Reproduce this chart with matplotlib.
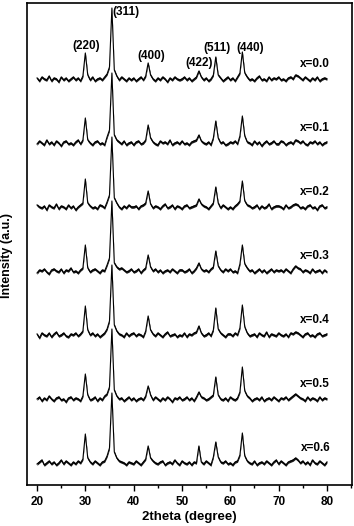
import matplotlib
matplotlib.use('Agg')
import matplotlib.pyplot as plt
from matplotlib.ticker import MultipleLocator
import numpy as np

# 2theta sampling (degrees), 0.5 deg step from 20 to 80
two_theta = np.arange(20.0, 80.01, 0.5)

samples = ['x=0.0', 'x=0.1', 'x=0.2', 'x=0.3', 'x=0.4', 'x=0.5', 'x=0.6']

# intensities (a.u., relative to each trace's baseline)
i_00 = [1, -2, 2, 0, -1, 3, -2, 1, 0, -3, 2, -1, 1, -2, 0, 2, -1, 1, -2, 3,
        26, 4, -1, 2, -2, 0, 1, -1, 2, 5, 12, 71, 9, 3, -1, 2, 0, -2, 1, -1,
        1, -2, 0, 2, -1, 3, 16, 4, 0, -2, 1, -1, 2, 0, -3, 1, -1, 2, 0, -1,
        0, 2, -1, 1, -2, 0, 2, 8, 2, -1, 1, -2, 0, 4, 22, 4, 1, -2, 0, 2,
        -1, 1, -2, 2, 6, 27, 6, 2, -1, 0, -2, 1, 3, -1, 0, -2, 2, -1, 1, 0,
        2, -1, 0, -2, 1, 2, 0, 4, 3, 1, -1, 2, 0, -2, 1, -1, 2, -2, 0, 1,
        0]
i_01 = [-1, 2, 0, -2, 3, -1, 1, -2, 2, 0, -3, 1, 2, -1, 0, -2, 1, 3, -1, 3,
        25, 3, 0, -2, 1, 2, -1, 0, -2, 6, 13, 70, 8, 3, 1, -1, 2, -2, 0, 1,
        -2, 1, 2, -1, 0, 3, 18, 5, 1, -1, -2, 2, 0, 1, -1, 3, -2, 0, 1, -1,
        2, -1, 0, -2, 1, 2, 3, 8, 2, 0, -1, 1, -2, 5, 22, 5, 0, 1, -2, -1,
        1, 0, 2, -1, 7, 27, 7, 1, 0, -2, 2, -1, 1, -3, 0, 2, -1, 0, 2, -1,
        -1, 2, 1, -2, 0, 1, -1, 3, 2, 0, 2, -1, -2, 1, 0, 2, -1, 1, -2, 0,
        1]
i_02 = [2, 0, -1, 1, -3, 2, 0, -1, 3, -2, 1, 0, -2, 2, -1, 1, -3, 0, 2, 4,
        28, 4, 1, -1, 0, -2, 2, 1, -1, 5, 12, 70, 9, 4, 0, -2, 1, -1, 2, 0,
        0, 1, -2, 1, 2, 4, 16, 3, -1, 1, 0, -2, 1, 3, -1, 0, 2, -2, 1, 0,
        -2, 1, 2, -1, 0, 1, 2, 8, 3, 1, 0, -2, 1, 4, 20, 4, -1, 2, 0, -2,
        0, -2, 1, 3, 6, 26, 6, 2, 1, -1, 0, 2, -2, 1, -1, 0, 3, -2, 0, 1,
        1, 0, -2, 2, -1, 0, 2, 3, 2, -1, 0, -2, 1, 2, -1, 0, -3, 1, 2, -1,
        0]
i_03 = [-2, 1, 0, 2, -1, -3, 1, 2, 0, -1, 2, -2, 1, 0, 3, -1, 0, -2, 1, 3,
        26, 3, -1, 1, 2, 0, -2, 1, 0, 6, 13, 70, 8, 4, 2, 3, 1, -1, 0, 2,
        -1, 0, 2, -2, 1, 3, 16, 4, 0, 2, -1, 1, -2, 0, 1, -1, 2, 0, -2, 1,
        1, -1, 0, 2, -2, 0, 3, 8, 2, 0, 1, -1, 2, 4, 20, 5, 1, -1, 2, 0,
        2, -1, 0, -2, 7, 26, 7, 3, 0, 1, -2, 0, 2, -1, 1, -2, 0, 2, -1, 1,
        0, 1, -1, 2, 0, -2, 2, 5, 3, 2, -1, 1, 0, -2, 2, -1, 0, 1, -2, 1,
        -1]
i_04 = [1, -3, 2, 0, -1, 2, -2, 1, 3, -1, 0, 2, -1, -2, 1, 0, 2, -1, 1, 4,
        29, 5, 0, 2, -1, 1, -2, 0, 2, 6, 14, 70, 10, 4, 1, 0, -2, 2, -1, 1,
        2, -1, 1, 0, -2, 4, 19, 5, 1, -1, 2, 0, -2, 1, 3, -1, 0, 1, -2, 0,
        -1, 2, -2, 1, 0, 2, 3, 9, 2, -1, 0, 2, -1, 5, 27, 6, 2, 0, -2, 1,
        1, -1, 2, 0, 7, 30, 8, 2, -1, 0, 1, -2, 2, 0, -1, 3, -2, 1, 0, -1,
        2, 0, -1, 1, -2, 2, 1, 3, 2, 0, -2, 1, 2, -1, 0, -2, 1, 2, -1, 0,
        1]
i_05 = [0, 2, -2, 1, -1, 3, 0, -2, 1, 2, -1, 0, -3, 1, 2, -1, 1, 0, -2, 3,
        25, 4, -1, 0, 2, -2, 1, -1, 3, 5, 12, 70, 9, 3, 0, 1, -2, 0, 2, -1,
        1, -2, 0, 1, -1, 3, 13, 4, -1, 2, 0, -2, 1, -1, 2, 0, -3, 1, 0, 2,
        -1, 0, 2, -1, 1, -2, 2, 7, 2, 1, -1, 0, 2, 4, 22, 4, 0, -1, 1, -2,
        2, 0, -1, 1, 7, 32, 8, 3, 1, -2, 0, 1, -1, 2, -2, 0, 1, -1, 2, 0,
        -2, 1, 0, 2, -1, 1, 3, 5, 3, 1, 0, -2, 2, -1, 1, 0, -2, 2, -1, 1,
        0]
i_06 = [-1, 1, 3, -2, 0, 2, -1, 1, -2, 0, 3, -1, 2, 0, -2, 1, -1, 2, 0, 4,
        29, 5, 1, -1, 2, 0, -2, 1, 2, 7, 15, 70, 11, 5, 2, 1, 0, -2, 1, 0,
        -1, 2, 0, -2, 1, 4, 17, 5, 2, 0, -1, 1, 2, -2, 0, 1, -1, 3, 0, -2,
        2, 0, -1, 1, -2, 1, 0, 17, 1, -1, 2, 0, -2, 6, 21, 6, 1, 0, 2, -1,
        0, -2, 1, 2, 8, 30, 7, 2, 0, -1, 2, -2, 0, 1, -1, 2, 0, -2, 1, 3,
        -1, 2, 0, -2, 1, 2, 3, 5, 3, 0, 2, -1, 1, -2, 3, 0, -1, 2, 0, -2,
        1]
intensities = [i_00, i_01, i_02, i_03, i_04, i_05, i_06]

# reflections marked on the top pattern
hkl = ['(220)', '(311)', '(400)', '(422)', '(511)', '(440)']
hkl_pos = [30.0, 35.5, 43.0, 53.5, 57.0, 62.5]

plt.rcParams['font.family'] = ['Liberation Sans', 'DejaVu Sans']
plt.rcParams['font.weight'] = 'bold'

fig = plt.figure(figsize=(3.54, 5.26), dpi=100)
ax = fig.add_axes([27 / 354, 1 - 485 / 526, 325 / 354, 482 / 526])

spacing = 64
base = 22
n = len(samples)
for i, (name, y) in enumerate(zip(samples, intensities)):
    off = base + spacing * (n - 1 - i)
    yy = np.array(y) + off
    # noisy counting band around the trace
    ax.fill_between(two_theta, yy - 1.3, yy + 1.3, color='#1a1a1a', lw=0)
    ax.plot(two_theta, yy, color='black', lw=0.8)
    ax.text(77.6, off + 15, name, ha='center', va='center',
            fontsize=8.5, fontweight='bold')

# peak labels on the x=0.0 pattern
top = base + spacing * (n - 1)
y0 = np.array(i_00)
nudges = [(0.2, 7), (0.2, -4), (0.6, 7), (0.0, 8), (0.3, 9), (1.7, 4)]
for lab, pos, (dx, dy) in zip(hkl, hkl_pos, nudges):
    k = int(round((pos - 20) / 0.5))
    ha = 'left' if lab == '(311)' else 'center'
    ax.text(pos + dx, top + y0[k] + dy, lab, ha=ha, va='center',
            fontsize=8.5, fontweight='bold')

ax.set_xlim(17.93, 85.2)
ax.set_ylim(0, 482)
ax.set_yticks([])
ax.xaxis.set_major_locator(MultipleLocator(10))
ax.xaxis.set_minor_locator(MultipleLocator(5))
ax.tick_params(axis='x', which='major', direction='out', length=4, width=1,
               labelsize=8.5, pad=4)
ax.tick_params(axis='x', which='minor', direction='out', length=2.5, width=1)
for s in ax.spines.values():
    s.set_linewidth(1.2)
ax.set_xticks(np.arange(20, 81, 10))
ax.set_xticklabels([str(v) for v in range(20, 81, 10)], fontweight='bold')
ax.set_xlim(17.93, 85.2)
ax.set_xlabel('2theta (degree)', fontsize=9.5, fontweight='bold', labelpad=2)
ax.set_ylabel('Intensity (a.u.)', fontsize=9, fontweight='bold')
ax.yaxis.set_label_coords(-0.043, 0.477)

fig.savefig('out.png', dpi=100)
